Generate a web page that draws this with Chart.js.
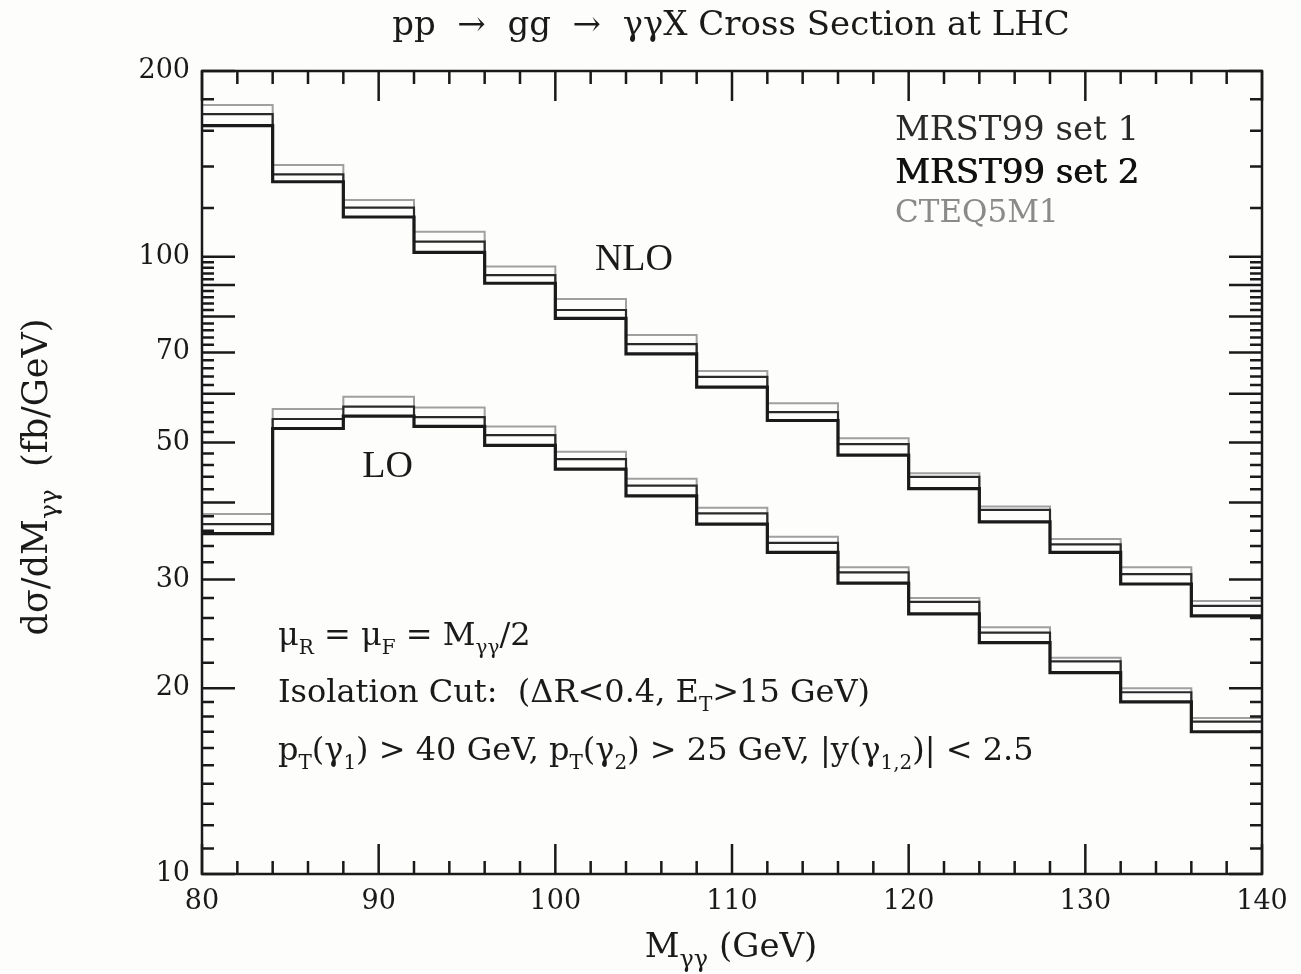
<!DOCTYPE html>
<html>
<head>
<meta charset="utf-8">
<script src="https://cdn.jsdelivr.net/npm/chart.js@4.4.1/dist/chart.umd.min.js"></script>
<style>
  html, body { margin: 0; padding: 0; background: #fdfdfc; }
  #wrap { width: 1301px; height: 974px; position: relative; }
</style>
</head>
<body>
<div id="wrap"><canvas id="chart"></canvas></div>
<script>
// bin edges of the M_gamma-gamma histogram (GeV)
const binEdges = [80, 84, 88, 92, 96, 100, 104, 108, 112, 116, 120, 124, 128, 132, 136, 140];

// NLO dsigma/dM (fb/GeV)
const nloMrst1 = [170.3, 136.0, 120.1, 105.8, 93.4, 82.0, 72.2, 63.9, 56.0, 49.7, 44.0, 38.9, 34.2, 30.6, 27.2];
const nloMrst2 = [163.1, 132.3, 116.0, 101.7, 90.6, 79.5, 69.6, 61.5, 54.3, 47.7, 42.1, 37.2, 33.2, 29.5, 26.2];
const nloCteq = [176.2, 140.8, 123.6, 109.8, 96.4, 85.4, 74.7, 65.3, 57.9, 50.8, 44.6, 39.4, 34.9, 31.4, 27.7];

// LO dsigma/dM (fb/GeV)
const loMrst1 = [36.9, 54.6, 57.2, 55.0, 51.4, 47.0, 42.6, 38.4, 34.4, 30.8, 27.6, 24.6, 22.1, 19.7, 17.65];
const loMrst2 = [35.6, 52.7, 55.2, 53.1, 49.5, 45.3, 41.0, 36.9, 33.2, 29.6, 26.4, 23.7, 21.2, 19.0, 17.0];
const loCteq = [38.3, 56.7, 59.3, 57.0, 53.1, 48.3, 43.7, 39.2, 35.2, 31.4, 28.0, 25.1, 22.4, 20.0, 17.9];

const xTickLabels = [80, 90, 100, 110, 120, 130, 140];
const yTickLabels = [10, 20, 30, 50, 70, 100, 200];
const pdfSets = ["MRST99 set 1", "MRST99 set 2", "CTEQ5M1"];

const SERIF = '"DejaVu Serif", serif';

// minor tick positions for the frame
const xFrameTicks = [];
for (let v = 80; v <= 140; v += 2) xFrameTicks.push(v);
const yFrameTicks = [];
for (let v = 10; v < 20; v += 1) yFrameTicks.push(v);
for (let v = 20; v < 100; v += 2) yFrameTicks.push(v);
for (let v = 100; v <= 200; v += 20) yFrameTicks.push(v);

// histogram points: left edge of each bin, last value repeated at 140
function histPoints(values) {
    return binEdges.map((x, i) => ({ x: x, y: values[Math.min(i, values.length - 1)] }));
}

const styles = {
    [pdfSets[0]]: { color: "#2a2a2a", width: 2.2, order: 2 },
    [pdfSets[1]]: { color: "#1a1a1a", width: 3.2, order: 1 },
    [pdfSets[2]]: { color: "#a0a0a0", width: 2.0, order: 3 },
};

function histDataset(label, values) {
    const s = styles[label];
    return {
        label: label,
        data: histPoints(values),
        borderColor: s.color,
        borderWidth: s.width,
        pointRadius: 0,
        stepped: "before",
        fill: false,
        order: s.order,
    };
}

// draw text made of [text, "sub"|""] pieces
function drawRich(ctx, parts, x, y, size, family, align, color, subScale) {
    const subSize = Math.round(size * (subScale || 0.62));
    let total = 0;
    parts.forEach(([t, k]) => {
        ctx.font = (k === "sub" ? subSize : size) + "px " + family;
        total += ctx.measureText(t).width;
    });
    let cx = align === "center" ? x - total / 2 : x;
    ctx.fillStyle = color || "#1a1a1a";
    ctx.textBaseline = "alphabetic";
    ctx.textAlign = "left";
    parts.forEach(([t, k]) => {
        ctx.font = (k === "sub" ? subSize : size) + "px " + family;
        ctx.fillText(t, cx, k === "sub" ? y + size * 0.28 : y);
        cx += ctx.measureText(t).width;
    });
}

const frameTicks = {
    id: "frameTicks",
    afterDatasetsDraw(chart) {
        const { ctx, chartArea: a, scales } = chart;
        const x = scales.x, y = scales.y;
        ctx.save();
        ctx.strokeStyle = "#1a1a1a";
        ctx.lineWidth = 2.5;
        ctx.strokeRect(a.left, a.top, a.right - a.left, a.bottom - a.top);
        ctx.beginPath();
        xFrameTicks.forEach((v) => {
            const px = x.getPixelForValue(v);
            const len = v % 10 === 0 ? 30 : 13;
            ctx.moveTo(px, a.bottom); ctx.lineTo(px, a.bottom - len);
            ctx.moveTo(px, a.top); ctx.lineTo(px, a.top + len);
        });
        yFrameTicks.forEach((v) => {
            const py = y.getPixelForValue(v);
            const len = v % 10 === 0 && v <= 100 || v === 200 ? 33 : 12;
            ctx.moveTo(a.left, py); ctx.lineTo(a.left + len, py);
            ctx.moveTo(a.right, py); ctx.lineTo(a.right - len, py);
        });
        ctx.stroke();
        ctx.restore();
    },
    afterDraw(chart) {
        const { ctx, chartArea: a, scales } = chart;
        const x = scales.x, y = scales.y;
        ctx.save();
        // title
        drawRich(ctx, [["pp  \u2192  gg  \u2192  \u03b3\u03b3X Cross Section at LHC", ""]],
            731, 35, 34, SERIF, "center");
        // axis titles
        drawRich(ctx, [["M", ""], ["\u03b3\u03b3", "sub"], [" (GeV)", ""]],
            731, 957, 34, SERIF, "center", "#1a1a1a", 0.7);
        ctx.save();
        ctx.translate(47, 477);
        ctx.rotate(-Math.PI / 2);
        drawRich(ctx, [["d\u03c3/dM", ""], ["\u03b3\u03b3", "sub"], ["  (fb/GeV)", ""]],
            0, 0, 35, SERIF, "center", "#1a1a1a", 0.7);
        ctx.restore();

        // legend text, top right
        const lx = a.right - 367;
        drawRich(ctx, [[pdfSets[0], ""]], lx, a.top + 69, 34, SERIF, "left", "#2a2a2a");
        drawRich(ctx, [[pdfSets[1], ""]], lx, a.top + 112, 34, SERIF, "left", "#111");
        drawRich(ctx, [[pdfSets[1], ""]], lx + 0.8, a.top + 112, 34, SERIF, "left", "#111");
        drawRich(ctx, [[pdfSets[2], ""]], lx, a.top + 151, 31, SERIF, "left", "#8a8a8a");

        // NLO / LO labels
        ctx.font = '38px "Liberation Serif", serif';
        ctx.fillStyle = "#1a1a1a";
        ctx.textAlign = "center";
        ctx.textBaseline = "middle";
        ctx.fillText("NLO", x.getPixelForValue(104.45), y.getPixelForValue(98.8));
        ctx.fillText("LO", x.getPixelForValue(90.5), y.getPixelForValue(45.6));

        // cut description
        const tx = x.getPixelForValue(84.3);
        drawRich(ctx, [["\u03bc", ""], ["R", "sub"], [" = \u03bc", ""], ["F", "sub"], [" = M", ""], ["\u03b3\u03b3", "sub"], ["/2", ""]],
            tx, 645, 32, SERIF, "left");
        drawRich(ctx, [["Isolation Cut:  (\u0394R<0.4, E", ""], ["T", "sub"], [">15 GeV)", ""]],
            tx, 702, 32, SERIF, "left");
        drawRich(ctx, [["p", ""], ["T", "sub"], ["(\u03b3", ""], ["1", "sub"], [") > 40 GeV, p", ""], ["T", "sub"],
            ["(\u03b3", ""], ["2", "sub"], [") > 25 GeV, |y(\u03b3", ""], ["1,2", "sub"], [")| < 2.5", ""]],
            tx, 760, 32, SERIF, "left");
        ctx.restore();
    },
};

const ctx = document.getElementById("chart").getContext("2d");
new Chart(ctx, {
    type: "line",
    data: {
        datasets: [
            histDataset(pdfSets[0], nloMrst1),
            histDataset(pdfSets[1], nloMrst2),
            histDataset(pdfSets[2], nloCteq),
            histDataset(pdfSets[0], loMrst1),
            histDataset(pdfSets[1], loMrst2),
            histDataset(pdfSets[2], loCteq),
        ],
    },
    options: {
        responsive: true,
        maintainAspectRatio: false,
        animation: false,
        layout: { padding: { left: 0, right: 39, top: 71, bottom: 0 } },
        scales: {
            x: {
                type: "linear",
                min: 80,
                max: 140,
                afterFit: (scale) => { scale.height = 100; },
                afterBuildTicks: (scale) => { scale.ticks = xTickLabels.map((v) => ({ value: v })); },
                grid: { display: false, drawTicks: false },
                border: { display: false },
                ticks: {
                    padding: 12,
                    color: "#1a1a1a",
                    font: { family: SERIF, size: 27 },
                    maxRotation: 0,
                    autoSkip: false,
                },
            },
            y: {
                type: "logarithmic",
                min: 10,
                max: 200,
                afterFit: (scale) => { scale.width = 202; },
                afterBuildTicks: (scale) => { scale.ticks = yTickLabels.map((v) => ({ value: v })); },
                grid: { display: false, drawTicks: false },
                border: { display: false },
                ticks: {
                    padding: 12,
                    color: "#1a1a1a",
                    font: { family: SERIF, size: 27 },
                    autoSkip: false,
                    callback: (v) => String(v),
                },
            },
        },
        plugins: {
            legend: { display: false },
            tooltip: { enabled: false },
        },
    },
    plugins: [frameTicks],
});
</script>
</body>
</html>
